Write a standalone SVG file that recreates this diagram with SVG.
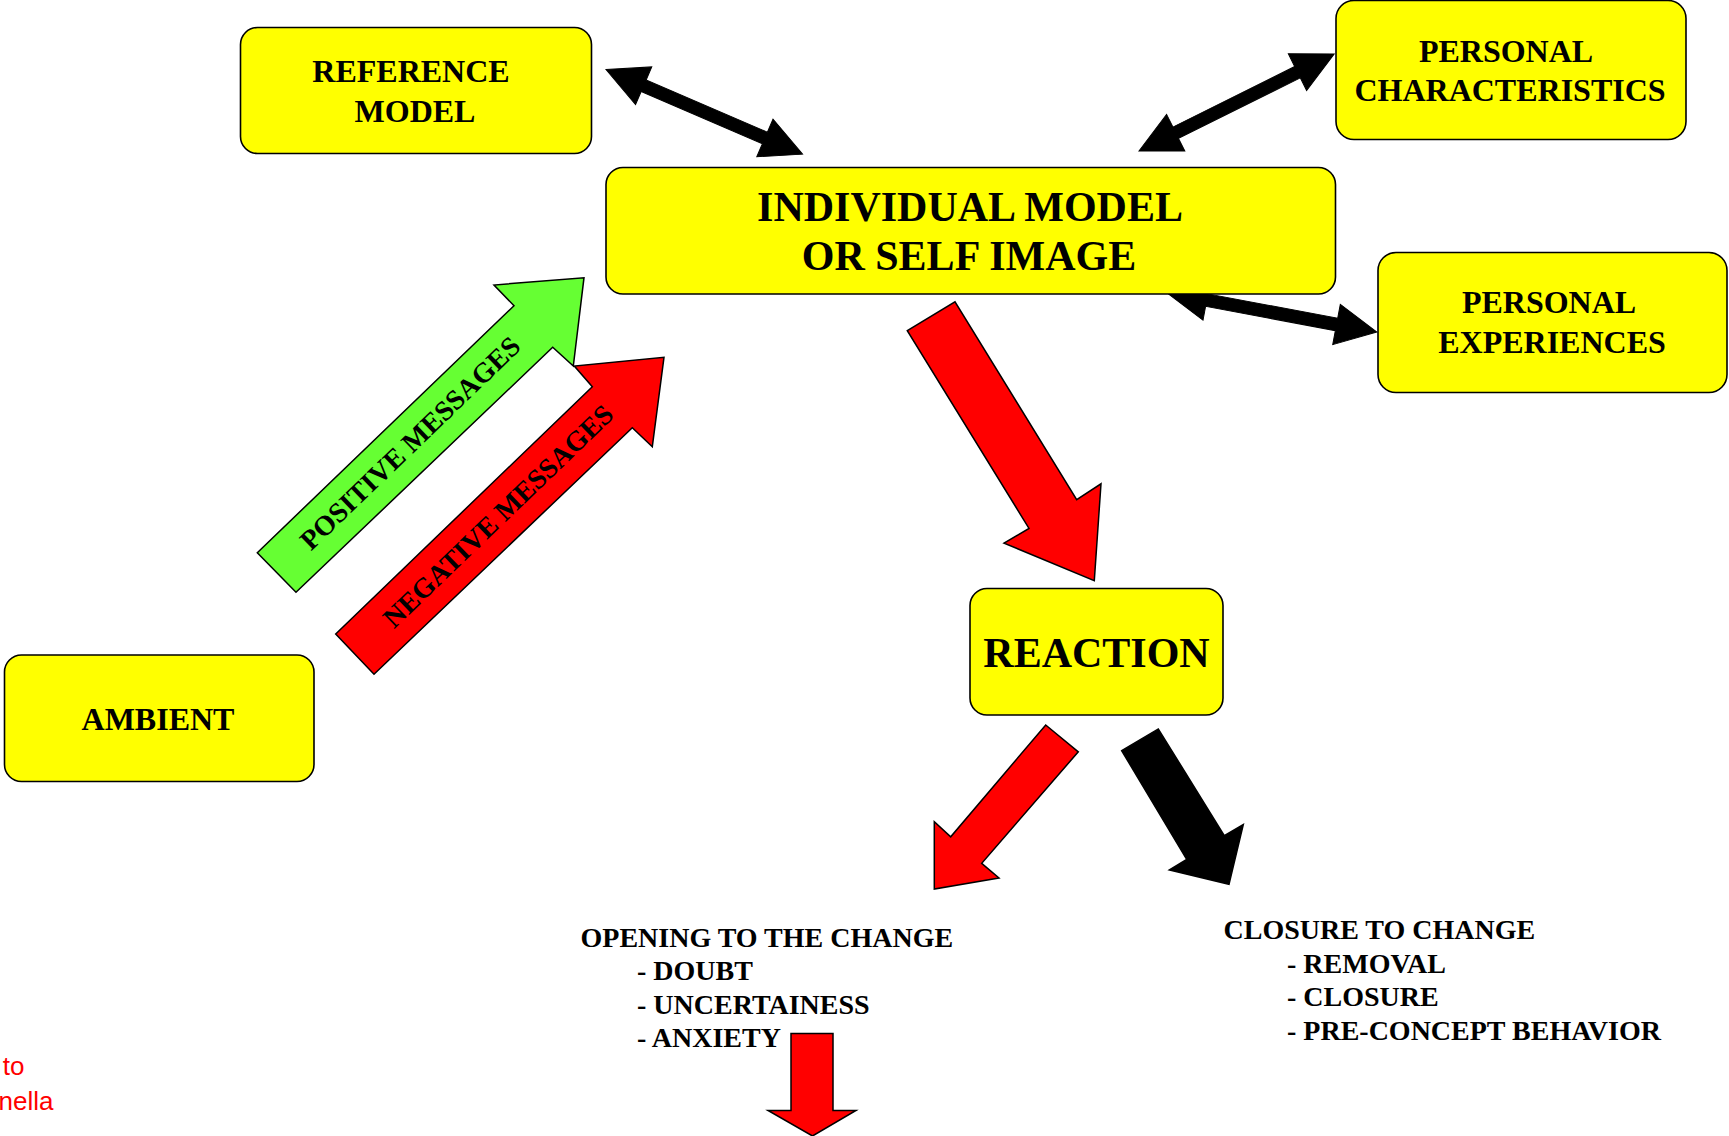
<svg xmlns="http://www.w3.org/2000/svg" width="1729" height="1136" viewBox="0 0 1729 1136">
  <style>
    .box { fill: #ffff00; stroke: #000; stroke-width: 1.6; }
    .lbl { font-family: "Liberation Serif", "Times New Roman", serif; font-weight: bold; fill: #000; text-anchor: middle; }
    .list { font-family: "Liberation Serif", "Times New Roman", serif; font-weight: bold; fill: #000; font-size: 28px; }
    .dbl { fill: #000; stroke: #000; stroke-width: 1; }
    .red { fill: #ff0000; stroke: #000; stroke-width: 1.5; }
    .green { fill: #66ff33; stroke: #000; stroke-width: 1.5; }
    .blk { fill: #000; stroke: #000; stroke-width: 1.5; }
    .note { font-family: "Liberation Sans", Arial, sans-serif; font-size: 26px; fill: #ff0000; text-anchor: end; }
  </style>
  <defs>
    <!-- double-headed arrow, unit shape along +x; length set per use -->
    <polygon id="dbl214" class="dbl" points="0,0 41,-20.5 41,-6.3 173,-6.3 173,-20.5 214,0 173,20.5 173,6.3 41,6.3 41,20.5"/>
    <polygon id="dbl218" class="dbl" points="0,0 41,-20.5 41,-6.3 177,-6.3 177,-20.5 218,0 177,20.5 177,6.3 41,6.3 41,20.5"/>
  </defs>
  <rect width="1729" height="1136" fill="#fff"/>

  <!-- connectors -->
  <g id="connectors">
    <use href="#dbl214" transform="translate(606,69.5) rotate(23.3)"/>
    <use href="#dbl218" transform="translate(1139,151) rotate(-26.45)"/>
    <use href="#dbl214" transform="translate(1166.5,292.5) rotate(10.65)"/>

    <g id="positive-messages">
      <polygon class="green" points="257.3,552.7 514,305.7 494,285 584,277.7 573.3,366 552.7,347.3 296,592.3"/>
      <text class="lbl" font-size="28" transform="translate(410,443) rotate(-43.9)" dy="0.34em">POSITIVE MESSAGES</text>
    </g>
    <g id="negative-messages">
      <polygon class="red" points="335.7,634 592.3,386.7 574.3,366 664,357.3 652.3,446.7 632.3,427.7 374,674.3"/>
      <text class="lbl" font-size="28" transform="translate(498,516) rotate(-43.9)" dy="0.34em">NEGATIVE MESSAGES</text>
    </g>

    <polygon class="red" points="907.3,330.7 955,301.9 1076.7,499.6 1101,483.8 1094.3,580.6 1004,543.1 1029,528.4"/>
    <polygon class="red" points="1045.7,725 1078.3,751.8 981.7,863.3 999,878 934.3,889 934.3,821.8 950.7,836.8"/>
    <polygon class="blk" points="1121.7,750.7 1158.3,728.9 1224.3,835.7 1243.3,824.6 1229,884.3 1169.3,870 1186.7,859.4"/>
    <polygon class="red" points="791,1033.5 833,1033.5 833,1110.5 856,1110.5 812.5,1136 768,1110.5 791,1110.5"/>
  </g>

  <!-- nodes -->
  <g id="reference-model">
    <rect class="box" x="240.5" y="27.5" width="351" height="126" rx="17"/>
    <text class="lbl" font-size="32" x="411" y="82">REFERENCE</text>
    <text class="lbl" font-size="32" x="415" y="122">MODEL</text>
  </g>

  <g id="individual-model">
    <rect class="box" x="606" y="167.5" width="729.5" height="126.5" rx="17"/>
    <text class="lbl" font-size="42" x="970" y="221">INDIVIDUAL MODEL</text>
    <text class="lbl" font-size="42" x="969" y="270">OR SELF IMAGE</text>
  </g>

  <g id="personal-characteristics">
    <rect class="box" x="1336" y="0.5" width="350" height="139" rx="18"/>
    <text class="lbl" font-size="32" x="1506" y="62">PERSONAL</text>
    <text class="lbl" font-size="32" x="1510" y="101">CHARACTERISTICS</text>
  </g>

  <g id="personal-experiences">
    <rect class="box" x="1378" y="252.5" width="349" height="140" rx="18"/>
    <text class="lbl" font-size="32" x="1549" y="313">PERSONAL</text>
    <text class="lbl" font-size="32" x="1552" y="353">EXPERIENCES</text>
  </g>

  <g id="ambient">
    <rect class="box" x="4.5" y="655" width="309.5" height="126.5" rx="17"/>
    <text class="lbl" font-size="32" x="158" y="730">AMBIENT</text>
  </g>

  <g id="reaction">
    <rect class="box" x="970" y="588.5" width="253" height="126.5" rx="17"/>
    <text class="lbl" font-size="42" x="1096.5" y="667">REACTION</text>
  </g>

  <g id="opening">
    <text class="list" x="580.5" y="946.5">OPENING TO THE CHANGE</text>
    <text class="list" x="637" y="980">- DOUBT</text>
    <text class="list" x="637" y="1013.5">- UNCERTAINESS</text>
    <text class="list" x="637" y="1047">- ANXIETY</text>
  </g>

  <g id="closure">
    <text class="list" x="1223.5" y="939">CLOSURE TO CHANGE</text>
    <text class="list" x="1287" y="972.5">- REMOVAL</text>
    <text class="list" x="1287" y="1006">- CLOSURE</text>
    <text class="list" x="1287" y="1039.5">- PRE-CONCEPT BEHAVIOR</text>
  </g>

  <g id="credit">
    <text class="note" x="24.5" y="1075">to</text>
    <text class="note" x="53.5" y="1110">nella</text>
  </g>
</svg>
